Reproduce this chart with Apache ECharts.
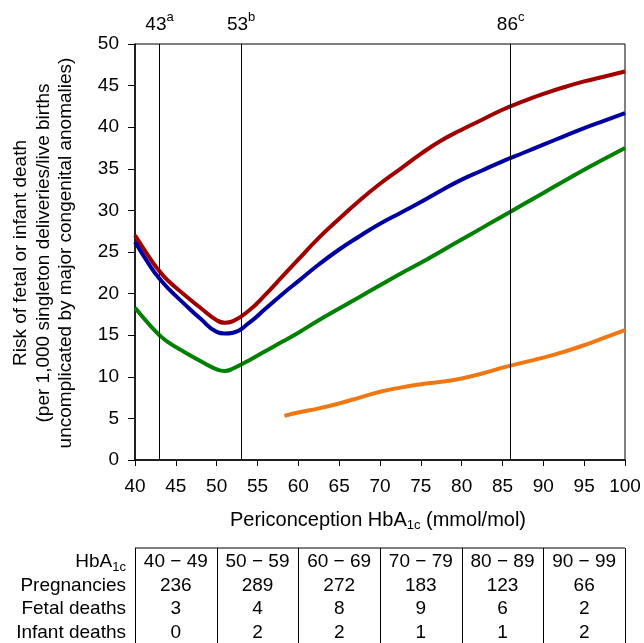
<!DOCTYPE html>
<html><head><meta charset="utf-8">
<script src="https://cdn.jsdelivr.net/npm/echarts@6/dist/echarts.min.js"></script>
<style>html,body{margin:0;padding:0;background:#fff}#c{width:644px;height:643px}</style>
</head><body><div id="c"></div>
<script>
const xMain = [40,42,43,44,46,48,50,51,52,54,56,58,60,62.5,65,67.5,70,72.5,75,77.5,80,82.5,85,87.5,90,92.5,95,97.5,100];
const redVals = [27.0,24.0,22.7,21.6,19.9,18.3,16.8,16.5,16.7,18.0,19.9,22.0,24.1,26.7,29.0,31.2,33.2,35.0,36.8,38.4,39.7,40.9,42.1,43.1,44.0,44.8,45.5,46.1,46.7];
const blueVals = [26.2,23.1,21.8,20.7,18.8,17.0,15.4,15.2,15.3,16.5,18.2,19.9,21.5,23.5,25.3,26.9,28.4,29.7,31.0,32.4,33.7,34.8,35.9,36.9,37.9,38.9,39.9,40.8,41.7];
const greenVals = [18.3,16.0,15.0,14.2,13.0,11.9,10.9,10.7,11.0,12.0,13.1,14.2,15.3,16.8,18.2,19.6,21.0,22.4,23.7,25.1,26.5,27.9,29.3,30.7,32.1,33.5,34.9,36.2,37.5];
const xOrange = [58.3,60,62.5,65,67.5,70,72.5,75,77.5,80,82.5,85,87.5,90,92.5,95,97.5,100];
const orangeVals = [5.3,5.7,6.2,6.8,7.5,8.2,8.7,9.1,9.4,9.8,10.4,11.1,11.7,12.3,13.0,13.8,14.7,15.6];
const refLines = [43,53,86];
const refSup = ['a','b','c'];
const tableCols = ['40 \u2212 49','50 \u2212 59','60 \u2212 69','70 \u2212 79','80 \u2212 89','90 \u2212 99'];
const tableEdges = [40,50,60,70,80,90,100];
const pregnancies = [236,289,272,183,123,66];
const fetalDeaths = [3,4,8,9,6,2];
const infantDeaths = [0,2,2,1,1,2];
const rowLabels = ['Pregnancies','Fetal deaths','Infant deaths'];
const yTitle = ['Risk of fetal or infant death','(per 1,000 singleton deliveries/live births','uncomplicated by major congenital anomalies)'];

const FONT = '"Liberation Sans", Arial, Helvetica, sans-serif';
const FS = 19;
const zip = (xs, ys) => xs.map((x, i) => [x, ys[i]]);
const chart = echarts.init(document.getElementById('c'));

function lineSeries(data, color) {
  return {type:'line', data, smooth:0.5, showSymbol:false, symbol:'none',
    lineStyle:{color, width:4}, itemStyle:{color}, animation:false, z:3};
}

chart.setOption({
  animation:false,
  backgroundColor:'#fff',
  textStyle:{fontFamily:FONT, color:'#000'},
  grid:{left:135, right:19, top:44, bottom:183, show:true, borderColor:'#000', borderWidth:1},
  xAxis:{type:'value', min:40, max:100, interval:5,
    axisLine:{lineStyle:{color:'#000', width:1.5}},
    axisTick:{show:true, inside:false, length:6, lineStyle:{color:'#000'}},
    axisLabel:{color:'#000', fontSize:FS, fontFamily:FONT, margin:17},
    splitLine:{show:false}},
  yAxis:{type:'value', min:0, max:50, interval:5,
    axisLine:{show:true, lineStyle:{color:'#000', width:1.5}},
    axisTick:{show:true, inside:false, length:7, lineStyle:{color:'#000'}},
    axisLabel:{color:'#000', fontSize:FS, fontFamily:FONT, margin:16},
    splitLine:{show:false}},
  series:[
    {type:'line', data:[], markLine:{silent:true, symbol:'none',
      lineStyle:{color:'#000', width:1, type:'solid'},
      label:{show:true, position:'end', distance:6, color:'#000', fontFamily:FONT,
        formatter:p => '{b|' + p.value + '}{s|' + refSup[refLines.indexOf(p.value)] + '}',
        rich:{b:{fontSize:FS, fontFamily:FONT, color:'#000'}, s:{fontSize:13, fontFamily:FONT, color:'#000', padding:[0,0,14,0]}}},
      data: refLines.map(v => ({xAxis:v}))}},
    lineSeries(zip(xMain, redVals), '#a00000'),
    lineSeries(zip(xMain, blueVals), '#0000a0'),
    lineSeries(zip(xMain, greenVals), '#008000'),
    lineSeries(zip(xOrange, orangeVals), '#f07812')
  ]
});

const px = v => chart.convertToPixel({xAxisIndex:0}, v);
const g = [];
const richBase = {b:{fontSize:FS, fontFamily:FONT, fill:'#000'}, s:{fontSize:13, fontFamily:FONT, fill:'#000', padding:[10,0,0,0]}};
yTitle.forEach((t, i) => g.push({type:'text', x:21 + i*22.5, y:253, rotation:Math.PI/2,
  style:{text:t, font:FS + 'px ' + FONT, fill:'#000', textAlign:'center', textVerticalAlign:'middle'}}));
g.push({type:'text', x:378, y:520, style:{text:'{b|Periconception HbA}{s|1c}{b| (mmol/mol)}',
  rich:{b:{fontSize:20, fontFamily:FONT, fill:'#000'}, s:{fontSize:13, fontFamily:FONT, fill:'#000', padding:[10,0,0,0]}},
  textAlign:'center', textVerticalAlign:'middle', font:'20px ' + FONT}});
const tTop = 548, tBot = 643, rowY = [562, 585.5, 609, 632.5];
const x0 = px(tableEdges[0]), x1 = px(tableEdges[tableEdges.length-1]);
g.push({type:'line', shape:{x1:x0, y1:tTop, x2:x1, y2:tTop}, style:{stroke:'#000', lineWidth:1}});
tableEdges.forEach(e => { const x = Math.round(px(e)) + 0.5;
  g.push({type:'line', shape:{x1:x, y1:tTop, x2:x, y2:tBot}, style:{stroke:'#000', lineWidth:1}}); });
const labelX = x0 - 9;
g.push({type:'text', x:labelX, y:rowY[0], style:{text:'{b|HbA}{s|1c}', rich:richBase, textAlign:'right', textVerticalAlign:'middle', font:FS + 'px ' + FONT}});
rowLabels.forEach((t, i) => g.push({type:'text', x:labelX, y:rowY[i+1],
  style:{text:t, font:FS + 'px ' + FONT, fill:'#000', textAlign:'right', textVerticalAlign:'middle'}}));
const rows = [tableCols, pregnancies, fetalDeaths, infantDeaths];
rows.forEach((r, ri) => r.forEach((v, ci) => {
  const cx = (px(tableEdges[ci]) + px(tableEdges[ci+1])) / 2;
  g.push({type:'text', x:cx, y:rowY[ri], style:{text:String(v), font:FS + 'px ' + FONT, fill:'#000', textAlign:'center', textVerticalAlign:'middle'}});
}));
chart.setOption({graphic:g});
</script></body></html>
